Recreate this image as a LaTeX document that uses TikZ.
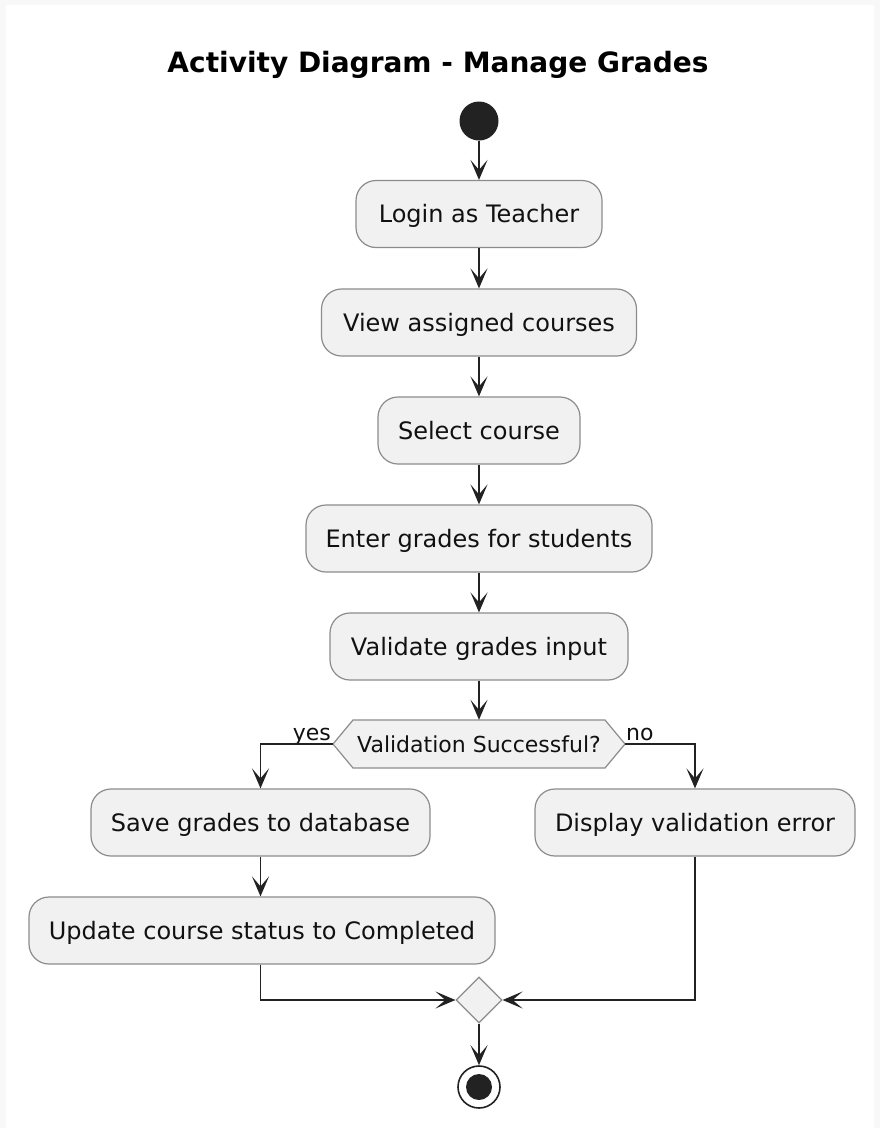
\documentclass[tikz,border=0pt]{standalone}
\usepackage{fontspec}
\setmainfont{DejaVu Sans}
\usetikzlibrary{arrows.meta,shapes.geometric,calc}
\definecolor{boxfill}{HTML}{F1F1F1}
\definecolor{boxline}{HTML}{8C8C8C}
\definecolor{lineclr}{HTML}{222222}
\definecolor{bgc}{HTML}{F8F8F8}
\definecolor{txt}{HTML}{111111}
\begin{document}
\begin{tikzpicture}[x=1pt,y=-1pt,
  act/.style={draw=boxline, fill=boxfill, line width=1.2pt, rounded corners=20pt,
    inner sep=0pt, minimum height=67pt, font=\fontsize{24}{28}\selectfont,
    text height=21pt, text depth=3.5pt, text=txt},
  arr/.style={draw=lineclr, line width=1.6pt, -{Stealth[length=20pt,width=17pt,inset=10pt]}},
  lbl/.style={font=\fontsize{22}{26}\selectfont, inner sep=0pt, text=txt}
]
\useasboundingbox (0,0) rectangle (880,1128);
\fill[bgc] (0,0) rectangle (880,1128);
\fill[white] (6,5) rectangle (874,1128);

\node[font=\bfseries\fontsize{28}{32}\selectfont, anchor=base, inner sep=0pt, text=black] (title) at (438,72) {Activity Diagram - Manage Grades};

\node[circle, fill=lineclr, minimum size=39pt, inner sep=0pt] (start) at (479,121) {};

\node[act, minimum width=246pt] (login) at (479,214) {Login as Teacher};
\node[act, minimum width=315pt] (view) at (479,322.5) {View assigned courses};
\node[act, minimum width=202pt] (select) at (479,430.5) {Select course};
\node[act, minimum width=346pt] (enter) at (479,538.5) {Enter grades for students};
\node[act, minimum width=298pt] (valid) at (479,646.5) {Validate grades input};

\draw[draw=boxline, fill=boxfill, line width=1.2pt] (333,744) -- (353,720) -- (605,720) -- (625,744) -- (605,768) -- (353,768) -- cycle;
\node[inner sep=0pt, minimum width=292pt, minimum height=48pt, font=\fontsize{22}{26}\selectfont, text height=19pt, text depth=3pt, text=txt] (dec) at (479,744) {Validation Successful?};

\node[act, minimum width=339pt] (save) at (260.5,822.5) {Save grades to database};
\node[act, minimum width=320pt] (disp) at (695,822.5) {Display validation error};
\node[act, minimum width=466pt] (update) at (262,930.5) {Update course status to Completed};

\node[diamond, aspect=1, draw=boxline, fill=boxfill, line width=1.2pt, minimum width=46pt, minimum height=46pt, inner sep=0pt] (merge) at (479,1000) {};

\node[circle, draw=lineclr, line width=1.6pt, fill=white, minimum size=42pt, inner sep=0pt] (end) at (479,1087) {};
\fill[lineclr] (end.center) circle[radius=13pt];

\node[lbl, anchor=base east] (yes) at (331,740) {yes};
\node[lbl, anchor=base west] (no) at (626,740) {no};

\draw[arr] (start) -- (login);
\draw[arr] (login) -- (view);
\draw[arr] (view) -- (select);
\draw[arr] (select) -- (enter);
\draw[arr] (enter) -- (valid);
\draw[arr] (valid) -- (dec);
\draw[arr] (dec.west) -| (save.north);
\draw[arr] (dec.east) -| (disp.north);
\draw[arr] (save) -- (save.south |- update.north);
\draw[arr] (save.south |- update.south) |- (merge.west);
\draw[arr] (disp.south) |- (merge.east);
\draw[arr] (merge) -- (end);
\end{tikzpicture}
\end{document}
